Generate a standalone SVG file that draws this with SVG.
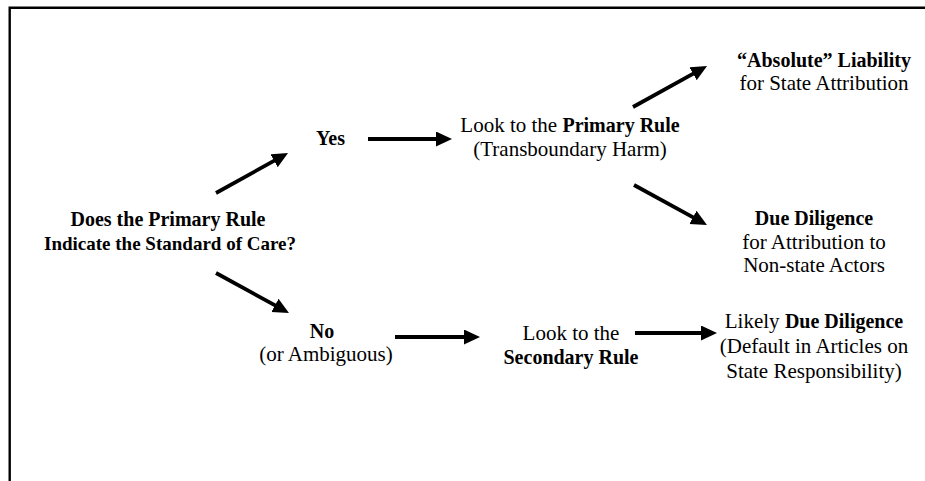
<svg xmlns="http://www.w3.org/2000/svg" width="925" height="481" viewBox="0 0 925 481">
<style>
text{font-family:"Liberation Serif","Times New Roman",serif;font-size:21px;fill:#000;text-anchor:middle}
.b{font-weight:bold;font-size:20px}
.conn line{stroke:#000;stroke-width:3.8;marker-end:url(#ah)}
</style>
<defs>
<marker id="ah" markerUnits="userSpaceOnUse" markerWidth="18" markerHeight="16" refX="6" refY="7.5" orient="auto">
<path d="M0,0 L16,7.5 L0,15 z" fill="#000"/>
</marker>
</defs>
<rect width="925" height="481" fill="#fff"/>
<path d="M9.7,481 V7.8 H925" fill="none" stroke="#000" stroke-width="2.4"/>
<g id="question">
<text class="b" x="168" y="226">Does the Primary Rule</text>
<text class="b" x="170" y="250" style="font-size:19px">Indicate the Standard of Care?</text>
</g>
<g id="yes"><text class="b" x="330.5" y="145">Yes</text></g>
<g id="no">
<text class="b" x="322" y="338">No</text>
<text x="326" y="361">(or Ambiguous)</text>
</g>
<g id="primary">
<text x="570" y="132">Look to the <tspan class="b">Primary Rule</tspan></text>
<text x="570" y="156">(Transboundary Harm)</text>
</g>
<g id="absolute">
<text class="b" x="824" y="67">“Absolute” Liability</text>
<text x="824" y="90">for State Attribution</text>
</g>
<g id="duediligence">
<text class="b" x="814" y="225">Due Diligence</text>
<text x="814" y="249">for Attribution to</text>
<text x="814" y="272">Non-state Actors</text>
</g>
<g id="secondary">
<text x="571" y="340">Look to the</text>
<text class="b" x="571" y="364">Secondary Rule</text>
</g>
<g id="likely">
<text x="814" y="328">Likely <tspan class="b">Due Diligence</tspan></text>
<text x="814" y="353">(Default in Articles on</text>
<text x="814" y="378">State Responsibility)</text>
</g>
<g id="connectors" class="conn">
<line x1="216" y1="193" x2="279.3" y2="157.9"/>
<line x1="216" y1="273" x2="280.2" y2="308.2"/>
<line x1="368" y1="139" x2="442" y2="139"/>
<line x1="633" y1="107" x2="698.3" y2="70.9"/>
<line x1="634" y1="185" x2="698.2" y2="220.2"/>
<line x1="395" y1="337" x2="470" y2="337"/>
<line x1="635" y1="333" x2="707" y2="333"/>
</g>
</svg>
